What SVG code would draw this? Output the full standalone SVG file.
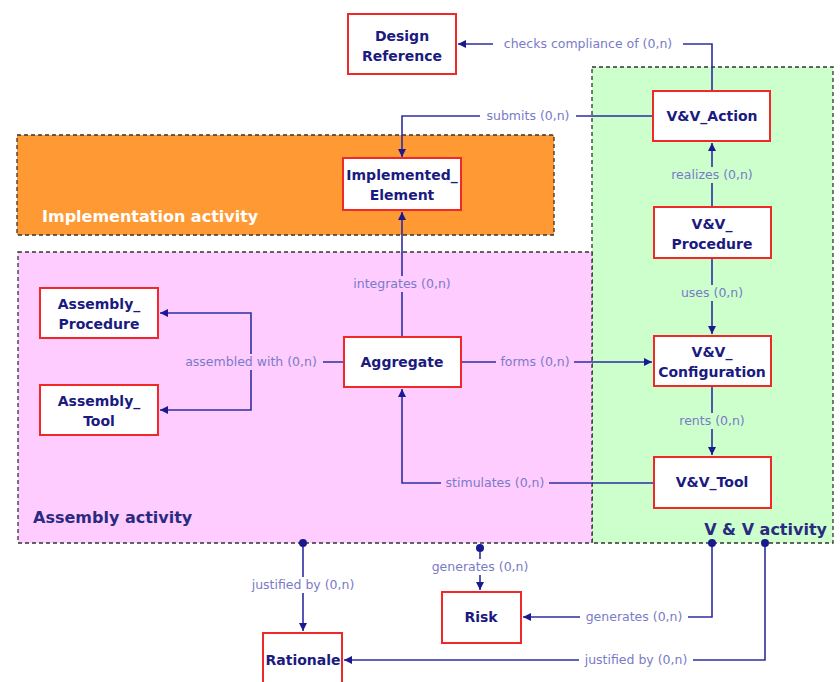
<svg xmlns="http://www.w3.org/2000/svg" width="840" height="682" viewBox="0 0 840 682">
<style>
.area{stroke:#333;stroke-width:1.3;stroke-dasharray:4,3}
.node rect{fill:#fff;stroke:#f02828;stroke-width:2}
.node text{font-family:"DejaVu Sans",sans-serif;font-weight:bold;font-size:14px;fill:#1a1a80;text-anchor:middle}
.conn path{fill:none;stroke:#2e2ea0;stroke-width:1.6}
.lbl{font-family:"DejaVu Sans",sans-serif;font-size:12.5px;fill:#7a7ac8;text-anchor:middle}
.act{font-family:"DejaVu Sans",sans-serif;font-weight:bold;font-size:16px}
</style>
<defs>
<marker id="arr" viewBox="0 0 10 10" refX="10" refY="5" markerWidth="8" markerHeight="8" markerUnits="userSpaceOnUse" orient="auto"><path d="M0,0L10,5L0,10z" fill="#1a1a90"/></marker>
<marker id="dot" viewBox="0 0 10 10" refX="5" refY="5" markerWidth="8" markerHeight="8" markerUnits="userSpaceOnUse"><circle cx="5" cy="5" r="5" fill="#1a1a90"/></marker>
</defs>
<rect width="840" height="682" fill="#fff"/>
<g id="areas">
<rect class="area" x="592" y="67" width="241" height="476" fill="#ccffcc"/>
<rect class="area" x="17" y="135" width="537" height="100" fill="#ff9933"/>
<rect class="area" x="18" y="252" width="574" height="291" fill="#ffccff"/>
<text class="act" x="42" y="222" fill="#fff">Implementation activity</text>
<text class="act" x="33" y="523" fill="#2a2a80">Assembly activity</text>
<text class="act" x="827" y="535" fill="#2a2a80" text-anchor="end">V &amp; V activity</text>
</g>
<g id="connectors" class="conn">
<path d="M712,91V44H458" marker-end="url(#arr)"/>
<path d="M653,116H402V157" marker-end="url(#arr)"/>
<path d="M402,337V212" marker-end="url(#arr)"/>
<path d="M344,362H251V313H160" marker-end="url(#arr)"/>
<path d="M251,362V410H160" marker-end="url(#arr)"/>
<path d="M461,362H652" marker-end="url(#arr)"/>
<path d="M712,207V143" marker-end="url(#arr)"/>
<path d="M712,258V334" marker-end="url(#arr)"/>
<path d="M712,386V455" marker-end="url(#arr)"/>
<path d="M654,483H402V389" marker-end="url(#arr)"/>
<path d="M303,543V631" marker-start="url(#dot)" marker-end="url(#arr)"/>
<path d="M480,548V590" marker-start="url(#dot)" marker-end="url(#arr)"/>
<path d="M712,543V617H523" marker-start="url(#dot)" marker-end="url(#arr)"/>
<path d="M765,543V660H344" marker-start="url(#dot)" marker-end="url(#arr)"/>
<g id="labels">
<rect x="493" y="36" width="190" height="16" fill="#fff"/><text class="lbl" x="588" y="48">checks compliance of (0,n)</text>
<rect x="480" y="108" width="96" height="16" fill="#fff"/><text class="lbl" x="528" y="120">submits (0,n)</text>
<rect x="348" y="276" width="108" height="16" fill="#ffccff"/><text class="lbl" x="402" y="288">integrates (0,n)</text>
<rect x="179" y="354" width="144" height="16" fill="#ffccff"/><text class="lbl" x="251" y="366">assembled with (0,n)</text>
<rect x="496" y="354" width="78" height="16" fill="#ffccff"/><text class="lbl" x="535" y="366">forms (0,n)</text>
<rect x="666" y="167" width="92" height="16" fill="#ccffcc"/><text class="lbl" x="712" y="179">realizes (0,n)</text>
<rect x="676" y="285" width="72" height="16" fill="#ccffcc"/><text class="lbl" x="712" y="297">uses (0,n)</text>
<rect x="675" y="413" width="74" height="16" fill="#ccffcc"/><text class="lbl" x="712" y="425">rents (0,n)</text>
<rect x="441" y="475" width="108" height="16" fill="#ffccff"/><text class="lbl" x="495" y="487">stimulates (0,n)</text>
<rect x="231" y="577" width="144" height="16" fill="#fff"/><text class="lbl" x="303" y="589">justified by (0,n)</text>
<rect x="426" y="559" width="108" height="16" fill="#fff"/><text class="lbl" x="480" y="571">generates (0,n)</text>
<rect x="580" y="609" width="108" height="16" fill="#fff"/><text class="lbl" x="634" y="621">generates (0,n)</text>
<rect x="579" y="652" width="114" height="16" fill="#fff"/><text class="lbl" x="636" y="664">justified by (0,n)</text>
</g>
</g>
<g id="design-reference" class="node"><rect x="348" y="14" width="108" height="60"/><text x="402" y="41">Design</text><text x="402" y="61">Reference</text></g>
<g id="vv-action" class="node"><rect x="653" y="91" width="117" height="50"/><text x="712" y="121">V&amp;V_Action</text></g>
<g id="implemented-element" class="node"><rect x="343" y="158" width="118" height="52"/><text x="402" y="180">Implemented_</text><text x="402" y="200">Element</text></g>
<g id="vv-procedure" class="node"><rect x="654" y="207" width="117" height="51"/><text x="712" y="229">V&amp;V_</text><text x="712" y="249">Procedure</text></g>
<g id="assembly-procedure" class="node"><rect x="40" y="288" width="118" height="50"/><text x="99" y="309">Assembly_</text><text x="99" y="329">Procedure</text></g>
<g id="aggregate" class="node"><rect x="344" y="337" width="117" height="50"/><text x="402" y="367">Aggregate</text></g>
<g id="vv-configuration" class="node"><rect x="654" y="336" width="117" height="50"/><text x="712" y="357">V&amp;V_</text><text x="712" y="377">Configuration</text></g>
<g id="assembly-tool" class="node"><rect x="40" y="385" width="118" height="50"/><text x="99" y="406">Assembly_</text><text x="99" y="426">Tool</text></g>
<g id="vv-tool" class="node"><rect x="654" y="457" width="117" height="51"/><text x="712" y="487">V&amp;V_Tool</text></g>
<g id="risk" class="node"><rect x="442" y="592" width="79" height="51"/><text x="481" y="622">Risk</text></g>
<g id="rationale" class="node"><rect x="263" y="633" width="79" height="52"/><text x="303" y="665">Rationale</text></g>
</svg>
